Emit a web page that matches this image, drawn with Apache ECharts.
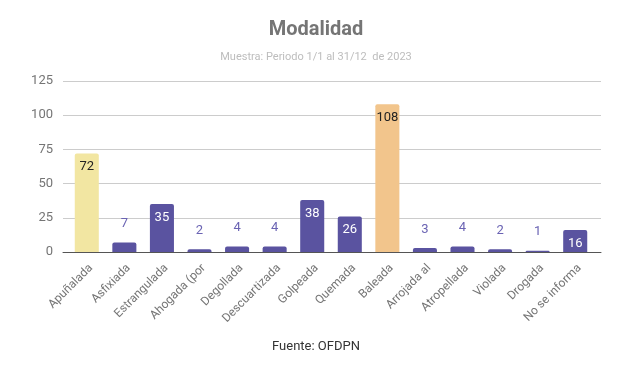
<!DOCTYPE html>
<html><head><meta charset="utf-8">
<script src="https://cdn.jsdelivr.net/npm/echarts@6/dist/echarts.min.js"></script>
<style>html,body{margin:0;padding:0;background:#fff}#c{width:632px;height:372px}</style>
</head><body><div id="c"></div>
<script>
const categories = ['Apuñalada','Asfixiada','Estrangulada','Ahogada (por','Degollada','Descuartizada','Golpeada','Quemada','Baleada','Arrojada al','Atropellada','Violada','Drogada','No se informa'];
const values = [72,7,35,2,4,4,38,26,108,3,4,2,1,16];
const yTicks = [0,25,50,75,100,125];
const colorPurple = '#5a53a0';
const specialColors = {'Apuñalada':'#f2e6a2','Baleada':'#f2c58c'};

const data = values.map((v,i)=>{
  const cat = categories[i];
  const special = specialColors[cat];
  const inside = v >= 10;
  return {
    value: v,
    itemStyle: {color: special || colorPurple, borderRadius:[2,2,0,0]},
    label: inside ? {
      show:true, position:'insideTop', distance:7,
      color: special ? '#222' : '#fff', fontSize:13
    } : {
      show:true, position:'top', distance:12,
      color:'#6a63b3', fontSize:13
    }
  };
});

const chart = echarts.init(document.getElementById('c'));
chart.setOption({
  animation:false,
  textStyle:{fontFamily:'Roboto'},
  title:[{
    text:'Modalidad', left:'center', top:15,
    textStyle:{fontFamily:'Roboto',fontSize:20,fontWeight:'bold',color:'#757575'}
  },{
    text:'Muestra: Periodo 1/1 al 31/12  de 2023', left:'center', top:47,
    textStyle:{fontFamily:'Roboto',fontSize:11,fontWeight:'normal',color:'#bdbdbd'}
  },{
    text:'Fuente: OFDPN', left:'center', top:335,
    textStyle:{fontFamily:'Roboto',fontSize:13,fontWeight:'normal',color:'#333'}
  }],
  grid:[
    {left:63,right:31,top:81,bottom:120,containLabel:false},
    {left:68,right:38,top:81,bottom:120,containLabel:false}
  ],
  xAxis:[{
    gridIndex:0, type:'value', min:0, max:1,
    axisLine:{show:true,onZero:true,lineStyle:{color:'#555',width:1}},
    axisTick:{show:false}, axisLabel:{show:false}, splitLine:{show:false}
  },{
    gridIndex:1, type:'category', data:categories,
    axisLine:{show:false},
    axisTick:{show:false},
    axisLabel:{rotate:45,color:'#757575',fontSize:12,fontFamily:'Roboto',margin:10,interval:0,verticalAlign:'top'}
  }],
  yAxis:[{
    gridIndex:0, type:'value', min:0, max:125, interval:25,
    axisLine:{show:false}, axisTick:{show:false},
    splitLine:{lineStyle:{color:'#cccccc'}},
    axisLabel:{color:'#757575',fontSize:13,fontFamily:'Roboto',margin:10,
      formatter:(v)=> yTicks.includes(v)? String(v):''}
  },{
    gridIndex:1, type:'value', min:0, max:125, interval:25, show:false
  }],
  series:[{type:'bar',xAxisIndex:1,yAxisIndex:1,data:data,barWidth:'64%'}]
});
</script></body></html>
